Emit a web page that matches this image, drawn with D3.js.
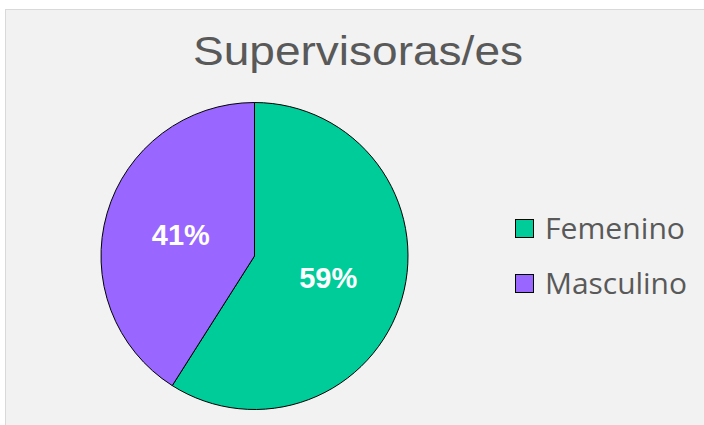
<!DOCTYPE html>
<html><head><meta charset="utf-8">
<script src="https://cdn.jsdelivr.net/npm/d3@7"></script>
<style>html,body{margin:0;padding:0;background:#fff;overflow:hidden}</style>
</head><body>
<script>
const title = "Supervisoras/es";
const categories = ["Femenino", "Masculino"];
const values = [59, 41];
const colors = ["#00CC99", "#9966FF"];

const W = 704, H = 425;
const svg = d3.select("body").append("svg").attr("width", W).attr("height", H);

svg.append("rect").attr("x", 5.5).attr("y", 9.5).attr("width", 720).attr("height", 440)
  .attr("fill", "#f2f2f2").attr("stroke", "#d9d9d9").attr("stroke-width", 1);

svg.append("text").attr("x", 358).attr("y", 64.5).attr("text-anchor", "middle")
  .attr("font-family", "Liberation Sans, Arial, sans-serif").attr("font-size", 41)
  .attr("fill", "#595959").attr("textLength", 330).attr("lengthAdjust", "spacingAndGlyphs")
  .text(title);

const cx = 254.5, cy = 256, r = 153.5;
const pie = d3.pie().sort(null).value(d => d)(values);
const arc = d3.arc().innerRadius(0).outerRadius(r);
const g = svg.append("g").attr("transform", `translate(${cx},${cy})`);
g.selectAll("path").data(pie).join("path")
  .attr("d", arc).attr("fill", (d, i) => colors[i])
  .attr("stroke", "#000").attr("stroke-width", 1);

const total = d3.sum(values);
const labelArc = d3.arc().innerRadius(r * 0.5).outerRadius(r * 0.5);
g.selectAll("text.lbl").data(pie).join("text").attr("class", "lbl")
  .attr("x", d => labelArc.centroid(d)[0]).attr("y", d => labelArc.centroid(d)[1])
  .attr("text-anchor", "middle").attr("dy", "0.36em")
  .attr("font-family", "Liberation Sans, Arial, sans-serif").attr("font-weight", "bold")
  .attr("font-size", 29).attr("fill", "#fff")
  .text(d => Math.round(d.data / total * 100) + "%");

const leg = svg.append("g").attr("transform", "translate(515,219)");
const items = leg.selectAll("g").data(categories).join("g")
  .attr("transform", (d, i) => `translate(0,${i * 55})`);
items.append("rect").attr("x", 0.5).attr("y", 0.5).attr("width", 18).attr("height", 18)
  .attr("fill", (d, i) => colors[i]).attr("stroke", "#000").attr("stroke-width", 1);
items.append("text").attr("x", 30).attr("y", 19.5)
  .attr("font-family", "Open Sans, Liberation Sans, sans-serif").attr("font-size", 29)
  .attr("fill", "#595959")
  .attr("textLength", (d, i) => i === 0 ? 140 : 142).attr("lengthAdjust", "spacingAndGlyphs")
  .text(d => d);
</script>
</body></html>
